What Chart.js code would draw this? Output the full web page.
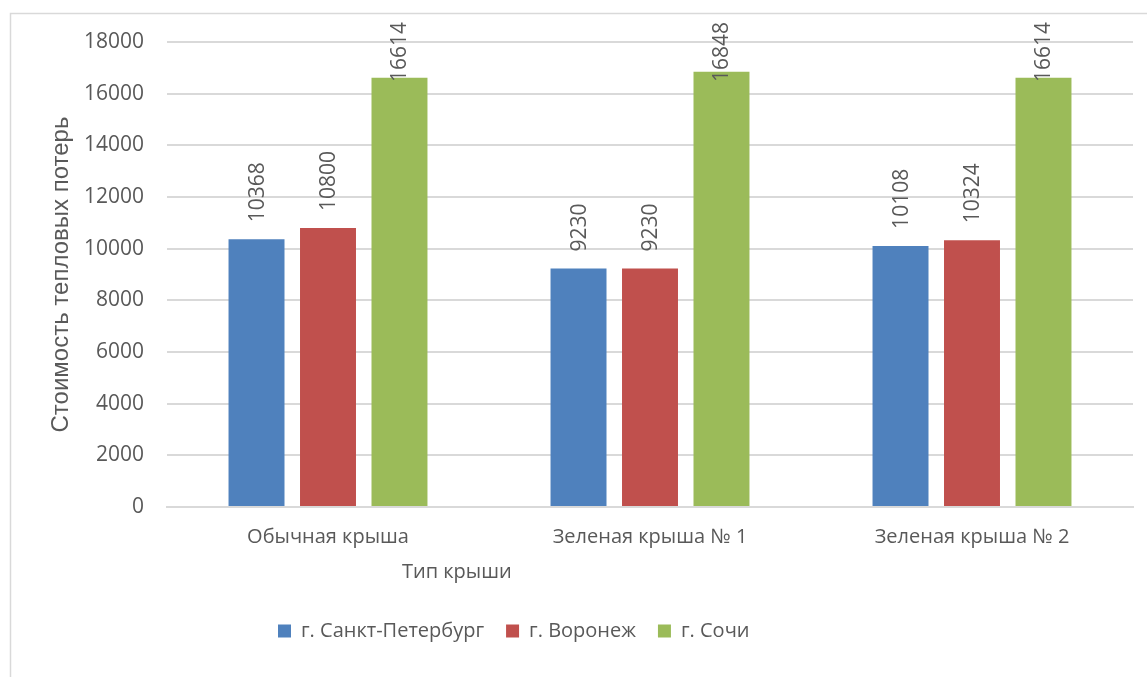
<!DOCTYPE html>
<html lang="ru">
<head>
<meta charset="utf-8">
<title>Стоимость тепловых потерь</title>
<script src="https://cdn.jsdelivr.net/npm/chart.js@4.4.1/dist/chart.umd.min.js"></script>
<style>
  html, body { margin: 0; padding: 0; background: #ffffff; }
  #wrap { position: relative; width: 1147px; height: 677px; }
  canvas { display: block; }
</style>
</head>
<body>
<div id="wrap"><canvas id="chart" width="1147" height="677"></canvas></div>
<script>
// Категории (тип крыши)
const categories = ['Обычная крыша', 'Зеленая крыша № 1', 'Зеленая крыша № 2'];

// Стоимость тепловых потерь по городам
const stPetersburg = [10368, 9230, 10108];
const voronezh = [10800, 9230, 10324];
const sochi = [16614, 16848, 16614];

const seriesNames = ['г. Санкт-Петербург', 'г. Воронеж', 'г. Сочи'];
const seriesColors = ['#4f81bd', '#c0504d', '#9bbb59'];

// Шкала значений
const yMin = 0;
const yMax = 18000;
const yStep = 2000;

const axisTitleY = 'Стоимость тепловых потерь';
const axisTitleX = 'Тип крыши';

const TEXT = '#595959';
const GRID = '#d9d9d9';
const FONT = '"Open Sans", "Noto Sans", sans-serif';

// Рамка вокруг области диаграммы
const framePlugin = {
  id: 'frame',
  beforeDraw(chart) {
    const ctx = chart.ctx;
    ctx.save();
    ctx.strokeStyle = GRID;
    ctx.lineWidth = 1.5;
    ctx.strokeRect(10.5, 13.5, 2000, 2000);
    ctx.restore();
  }
};

// Подписи значений над столбцами (повёрнуты на 90°)
const valueLabels = {
  id: 'valueLabels',
  afterDatasetsDraw(chart) {
    const ctx = chart.ctx;
    const area = chart.chartArea;
    ctx.save();
    ctx.font = '21px ' + FONT;
    ctx.fillStyle = TEXT;
    ctx.textAlign = 'left';
    ctx.textBaseline = 'middle';
    chart.data.datasets.forEach((ds, i) => {
      const meta = chart.getDatasetMeta(i);
      meta.data.forEach((bar, j) => {
        const txt = String(ds.data[j]);
        const w = ctx.measureText(txt).width;
        let start = bar.y - 17;
        const limit = area.top - 20;
        if (start - w < limit) start = limit + w;
        ctx.save();
        ctx.translate(bar.x + 1, start);
        ctx.rotate(-Math.PI / 2);
        ctx.fillText(txt, 0, 0);
        ctx.restore();
      });
    });
    ctx.restore();
  }
};

// Название горизонтальной оси и положение легенды
const layoutExtras = {
  id: 'layoutExtras',
  afterLayout(chart) {
    const lg = chart.legend;
    if (lg) {
      const w = lg.right - lg.left;
      lg.left = 256;
      lg.right = lg.left + w;
    }
  },
  afterDraw(chart) {
    const ctx = chart.ctx;
    const area = chart.chartArea;
    ctx.save();
    ctx.font = '20px ' + FONT;
    ctx.fillStyle = TEXT;
    ctx.textAlign = 'center';
    ctx.textBaseline = 'middle';
    ctx.fillText(axisTitleX, area.left + (area.right - area.left) * 0.3, 572);
    ctx.restore();
  }
};

const datasets = [stPetersburg, voronezh, sochi].map((vals, i) => ({
  label: seriesNames[i],
  data: vals,
  backgroundColor: seriesColors[i],
  borderWidth: 0,
  barPercentage: 0.783,
  categoryPercentage: 0.666
}));

new Chart(document.getElementById('chart'), {
  type: 'bar',
  data: { labels: categories, datasets },
  plugins: [framePlugin, valueLabels, layoutExtras],
  options: {
    responsive: false,
    animation: false,
    layout: { padding: { top: 42, right: 14, left: 0, bottom: 26 } },
    plugins: {
      tooltip: { enabled: false },
      legend: {
        position: 'bottom',
        align: 'start',
        labels: {
          boxWidth: 13,
          boxHeight: 13,
          padding: 22,
          color: TEXT,
          font: { family: FONT, size: 20 }
        }
      }
    },
    scales: {
      x: {
        grid: { display: false, drawTicks: false },
        border: { display: true, color: GRID, width: 2 },
        ticks: { color: TEXT, font: { family: FONT, size: 20 }, padding: 18 },
        afterFit(scale) { scale.height = 92; }
      },
      y: {
        min: yMin,
        max: yMax,
        grid: { color: GRID, lineWidth: 2, drawTicks: false },
        border: { display: false },
        ticks: {
          stepSize: yStep,
          color: TEXT,
          padding: 23,
          font: { family: FONT, size: 21 },
          callback: (v) => String(v)
        },
        title: {
          display: true,
          text: axisTitleY,
          color: TEXT,
          font: { family: '"Liberation Sans", Arial, sans-serif', size: 24 },
          padding: { top: 47, bottom: 0 }
        },
        afterFit(scale) { scale.width = 167; }
      }
    }
  }
});
</script>
</body>
</html>
